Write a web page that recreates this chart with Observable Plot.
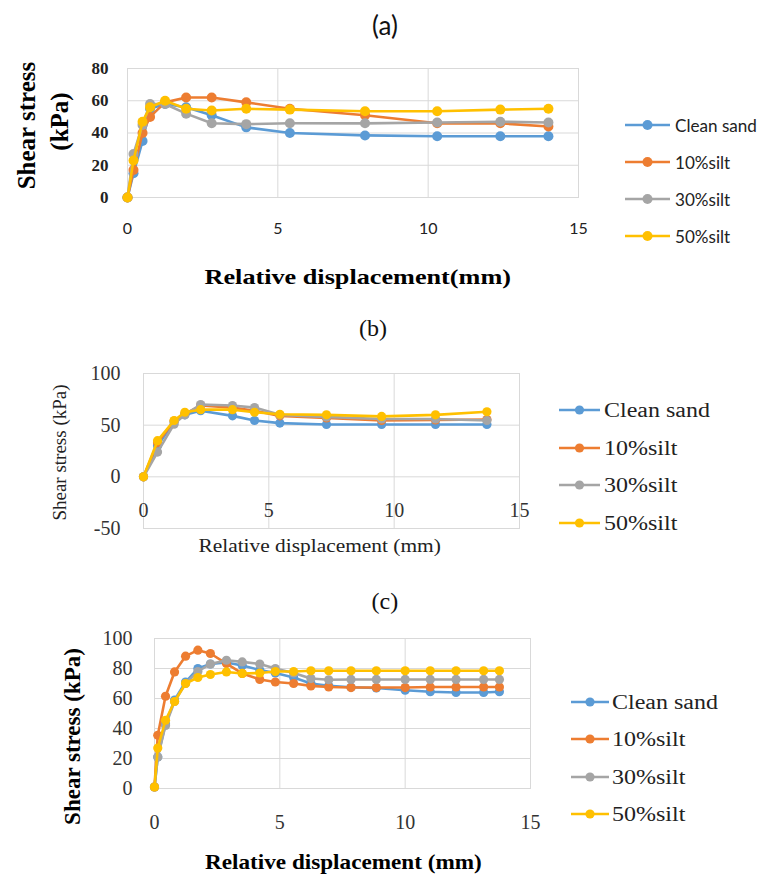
<!DOCTYPE html>
<html><head><meta charset="utf-8">
<script src="https://cdn.jsdelivr.net/npm/d3@7"></script>
<script src="https://cdn.jsdelivr.net/npm/@observablehq/plot@0.6"></script>
<style>
body{margin:0;background:#fff;}
#root{position:relative;width:763px;height:879px;overflow:hidden;background:#fff;}
.p{position:absolute;left:0;}
.t{position:absolute;white-space:nowrap;line-height:1;transform-origin:center center;}
.lg{position:absolute;}
</style></head><body><div id="root"></div>
<script>
// ---------- data ----------
const seriesNames = ["Clean sand", "10%silt", "30%silt", "50%silt"];
const seriesColors = ["#5B9BD5", "#ED7D31", "#A5A5A5", "#FFC000"];
const xTicks = [0, 5, 10, 15];

// panel (a)
const xA = [0, 0.2, 0.5, 0.75, 1.25, 1.95, 2.8, 3.95, 5.4, 7.9, 10.3, 12.4, 14.0];
const cleanA = [0, 15, 35, 55, 58, 56, 51, 43.5, 40, 38.5, 38, 38, 38];
const silt10A = [0, 17, 40, 50, 59, 62, 62, 59, 55, 51, 46, 46, 44];
const silt30A = [0, 27, 45, 58, 58, 52, 46, 45.5, 46, 46, 46.5, 47, 46.5];
const silt50A = [0, 23, 47, 56, 60, 55, 54, 55, 54.5, 53.5, 53.5, 54.5, 55];
const yTicksA = [0, 20, 40, 60, 80];

// panel (b)
const xB = [0, 0.56, 1.22, 1.65, 2.28, 3.55, 4.43, 5.44, 7.3, 9.5, 11.65, 13.7];
const cleanB = [0, 30, 53, 60, 64, 59, 54.5, 52, 50.7, 50.7, 50.7, 50.7];
const silt10B = [0, 33, 54, 61, 69, 67, 64, 59, 57, 54.5, 55, 55.5];
const silt30B = [0, 24, 51, 60, 70, 69, 67, 60, 58, 56, 56, 54.5];
const silt50B = [0, 35, 54.5, 62.5, 65, 65, 62.5, 60.5, 60, 58.5, 60, 63];
const yTicksB = [-50, 0, 50, 100];

// panel (c)
const xC = [0, 0.13, 0.44, 0.8, 1.24, 1.73, 2.23, 2.87, 3.5, 4.2, 4.82, 5.55, 6.24, 6.95, 7.84, 8.85, 10.0, 11.0, 12.03, 13.13, 13.76];
const cleanC = [1, 21, 43, 59, 71, 80, 83, 84, 82, 79, 77, 74, 70, 68.5, 67.5, 67, 65.5, 64.5, 64, 64, 64.5];
const silt10C = [1, 35.5, 61.5, 77.7, 88.2, 92.2, 90, 83.3, 76.7, 72.7, 71, 70, 68.4, 67.7, 67.3, 67.3, 67.3, 67.7, 67.7, 67.7, 67.7];
const silt30C = [1, 21, 42, 58, 70, 78, 83, 85.5, 84.4, 83, 80, 77, 73.3, 72.5, 72.7, 72.7, 72.7, 72.7, 72.7, 72.7, 72.7];
const silt50C = [1, 27, 45.5, 58, 70, 74, 76, 77.7, 76.7, 77, 78, 78, 78.5, 78.5, 78.5, 78.5, 78.5, 78.5, 78.5, 78.5, 78.5];
const yTicksC = [0, 20, 40, 60, 80, 100];

// ---------- helpers ----------
const root = document.getElementById("root");
const GRID = "#d9d9d9";

function seriesMarks(xs, arrays, r, sw) {
  const marks = [];
  arrays.forEach((vals, i) => {
    const rows = vals.map((v, j) => ({x: xs[j], y: v, s: seriesNames[i]}));
    marks.push(Plot.line(rows, {x: "x", y: "y", stroke: seriesColors[i], strokeWidth: sw, curve: "linear"}));
    marks.push(Plot.dot(rows, {x: "x", y: "y", fill: seriesColors[i], r: r, stroke: "none"}));
  });
  return marks;
}

function place(svg, top) {
  const d = document.createElement("div");
  d.className = "p"; d.style.top = top + "px";
  d.appendChild(svg);
  root.appendChild(d);
}

function addText(txt, o) {
  const s = document.createElement("span");
  s.className = "t"; s.textContent = txt;
  s.style.fontFamily = o.font; s.style.fontSize = o.size + "px";
  s.style.fontWeight = o.weight || "normal"; s.style.color = o.color || "#000";
  root.appendChild(s);
  const w = s.offsetWidth, h = s.offsetHeight;
  const k = o.width ? o.width / w : (o.k || 1);
  if (o.left != null) {
    s.style.left = o.left + "px"; s.style.top = (o.cy - h / 2) + "px";
    s.style.transformOrigin = "left center";
  } else {
    s.style.left = (o.cx - w / 2) + "px"; s.style.top = (o.cy - h / 2) + "px";
  }
  s.style.transform = (o.rotate ? `rotate(${o.rotate}deg) ` : "") + `scaleX(${k})`;
  return s;
}

function legend(o) {
  seriesNames.forEach((name, i) => {
    const cy = o.ys[i];
    const ns = "http://www.w3.org/2000/svg";
    const sv = document.createElementNS(ns, "svg");
    const w = o.x2 - o.x1;
    sv.setAttribute("width", w); sv.setAttribute("height", 14);
    sv.setAttribute("class", "lg");
    sv.style.left = o.x1 + "px"; sv.style.top = (cy - 7) + "px";
    const ln = document.createElementNS(ns, "line");
    ln.setAttribute("x1", 0); ln.setAttribute("x2", w); ln.setAttribute("y1", 7); ln.setAttribute("y2", 7);
    ln.setAttribute("stroke", seriesColors[i]); ln.setAttribute("stroke-width", o.sw);
    const c = document.createElementNS(ns, "circle");
    c.setAttribute("cx", w / 2); c.setAttribute("cy", 7); c.setAttribute("r", o.r);
    c.setAttribute("fill", seriesColors[i]);
    sv.appendChild(ln); sv.appendChild(c);
    root.appendChild(sv);
    addText(name, {left: o.textX, cy: cy, font: o.font, size: o.size, color: o.color, k: o.k});
  });
}

// ---------- panel (a) ----------
place(Plot.plot({
  width: 600, height: 240,
  marginLeft: 127, marginRight: 22, marginTop: 68, marginBottom: 43,
  x: {domain: [0, 15]},
  y: {domain: [0, 80]},
  marks: [
    Plot.gridX([5, 10], {stroke: GRID, strokeOpacity: 1}),
    Plot.gridY([20, 40, 60], {stroke: GRID, strokeOpacity: 1}),
    Plot.frame({stroke: GRID}),
    ...seriesMarks(xA, [cleanA, silt10A, silt30A, silt50A], 5, 2.6),
    Plot.axisY(yTicksA, {tickSize: 0, tickPadding: 19, fontSize: 17, fontWeight: "bold", fontFamily: "Liberation Serif", fill: "#222", label: null, tickFormat: d => String(d)}),
    Plot.axisX(xTicks, {tickSize: 0, tickPadding: 25, fontSize: 16, fontFamily: "Lato", fill: "#222", label: null, tickFormat: d => String(d)})
  ]
}), 0);

// ---------- panel (b) ----------
place(Plot.plot({
  width: 600, height: 210,
  marginLeft: 143, marginRight: 81, marginTop: 33, marginBottom: 22,
  x: {domain: [0, 15], axis: null},
  y: {domain: [-50, 100]},
  marks: [
    Plot.gridX([5, 10], {stroke: GRID, strokeOpacity: 1}),
    Plot.gridY([0, 50], {stroke: GRID, strokeOpacity: 1}),
    Plot.frame({stroke: GRID}),
    ...seriesMarks(xB, [cleanB, silt10B, silt30B, silt50B], 4.6, 2.6),
    Plot.axisY(yTicksB, {tickSize: 0, tickPadding: 23, fontSize: 20, fontFamily: "Liberation Serif", fill: "#333", label: null, tickFormat: d => String(d)}),
    Plot.text(xTicks, {x: d => d, y: () => 0, dy: 34, text: d => String(d), fontSize: 20, fontFamily: "Liberation Serif", fill: "#333"})
  ]
}), 340);

// ---------- panel (c) ----------
place(Plot.plot({
  width: 600, height: 240,
  marginLeft: 154, marginRight: 70, marginTop: 28, marginBottom: 62,
  x: {domain: [0, 15]},
  y: {domain: [0, 100]},
  marks: [
    Plot.gridX([5, 10], {stroke: GRID, strokeOpacity: 1}),
    Plot.gridY([20, 40, 60, 80], {stroke: GRID, strokeOpacity: 1}),
    Plot.frame({stroke: GRID}),
    ...seriesMarks(xC, [cleanC, silt10C, silt30C, silt50C], 4.6, 2.6),
    Plot.axisY(yTicksC, {tickSize: 0, tickPadding: 22, fontSize: 20, fontFamily: "Liberation Serif", fill: "#333", label: null, tickFormat: d => String(d)}),
    Plot.axisX(xTicks, {tickSize: 0, tickPadding: 26, fontSize: 20, fontFamily: "Liberation Serif", fill: "#333", label: null, tickFormat: d => String(d)})
  ]
}), 610);

// ---------- titles & axis labels ----------
addText("(a)", {cx: 385, cy: 25, font: "Lato", size: 26, color: "#111"});
addText("(b)", {cx: 373, cy: 328, font: "Liberation Serif", size: 24, color: "#111"});
addText("(c)", {cx: 385, cy: 601, font: "Liberation Serif", size: 24, color: "#111"});

addText("Shear stress", {cx: 27, cy: 125, font: "Liberation Serif", size: 25, weight: "bold", rotate: -90});
addText("(kPa)", {cx: 59, cy: 121, font: "Liberation Serif", size: 25, weight: "bold", rotate: -90});
addText("Relative displacement(mm)", {cx: 358, cy: 277, font: "Liberation Serif", size: 21, weight: "bold", width: 307});

addText("Shear stress (kPa)", {cx: 59, cy: 452, font: "Liberation Serif", size: 19, rotate: -90, color: "#222"});
addText("Relative displacement (mm)", {cx: 319, cy: 545, font: "Liberation Serif", size: 19, width: 242, color: "#222"});

addText("Shear stress (kPa)", {cx: 72, cy: 736, font: "Liberation Serif", size: 23, weight: "bold", rotate: -90});
addText("Relative displacement (mm)", {cx: 343, cy: 862, font: "Liberation Serif", size: 21, weight: "bold", width: 277});

// ---------- legends ----------
legend({x1: 625, x2: 670, ys: [125, 162, 199, 236], r: 5, sw: 2.6, textX: 675, font: "Lato", size: 18, color: "#222", k: 0.95});
legend({x1: 559, x2: 600, ys: [410, 448, 485, 523], r: 4.6, sw: 2.6, textX: 604, font: "Liberation Serif", size: 20, color: "#222", k: 1.2});
legend({x1: 571, x2: 609, ys: [702, 739, 777, 814], r: 4.6, sw: 2.6, textX: 612, font: "Liberation Serif", size: 20, color: "#222", k: 1.2});
</script></body></html>
